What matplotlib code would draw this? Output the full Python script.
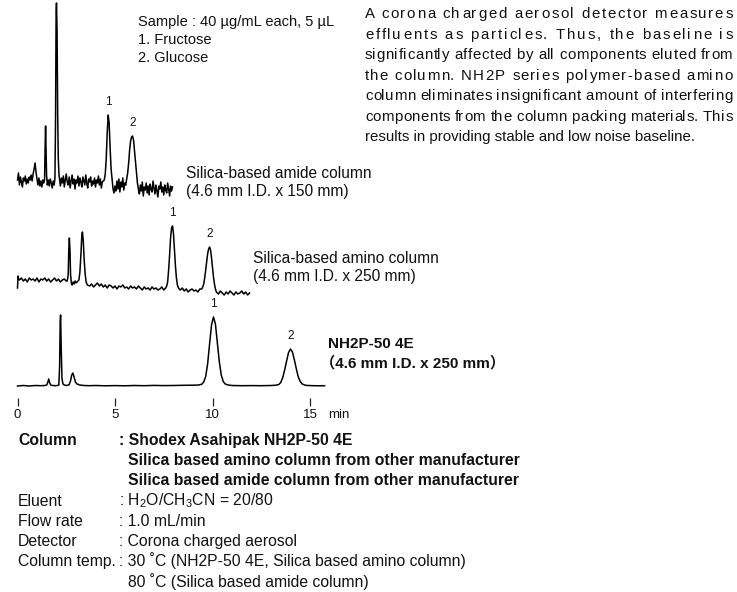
import matplotlib
matplotlib.use("Agg")
import matplotlib.pyplot as plt
from matplotlib.font_manager import FontProperties

# ---------------- data ----------------
tick_values = [0, 5, 10, 15]
tick_labels = ["0", "5", "10", "15"]
axis_unit = "min"

# Silica-based amide column trace (time in min, signal height)
amide_t = [0.00, 0.05, 0.10, 0.15, 0.20, 0.25, 0.30, 0.35, 0.40, 0.45, 0.50, 0.55, 0.60, 0.65, 0.70, 0.75, 0.80,
           0.85, 0.90, 0.95, 1.00, 1.05, 1.10, 1.15,
           1.20, 1.25, 1.30, 1.35,
           1.39, 1.42, 1.44, 1.46, 1.49, 1.53,
           1.58, 1.63, 1.68, 1.73, 1.78, 1.83, 1.88,
           1.92, 1.95, 1.98, 2.00, 2.03, 2.06, 2.09, 2.13, 2.17,
           2.20, 2.25, 2.30, 2.35, 2.40, 2.45, 2.50, 2.55, 2.60, 2.65, 2.70, 2.75, 2.80, 2.85, 2.90,
           2.95, 3.00, 3.05, 3.10, 3.15, 3.20, 3.25, 3.30, 3.35, 3.40, 3.45, 3.50, 3.55, 3.60, 3.65,
           3.70, 3.75, 3.80, 3.85, 3.90, 3.95, 4.00, 4.05, 4.10, 4.15, 4.20, 4.25, 4.30, 4.35, 4.40,
           4.45, 4.50, 4.55, 4.60, 4.65, 4.70, 4.75, 4.80, 4.85, 4.90, 4.95, 5.00,
           5.05, 5.10, 5.15, 5.20, 5.25, 5.30, 5.35, 5.40, 5.45, 5.50, 5.55,
           5.60, 5.65, 5.70, 5.75, 5.80, 5.85, 5.90, 5.95, 6.00, 6.05, 6.10, 6.15, 6.20,
           6.25, 6.30, 6.35, 6.40, 6.45, 6.50, 6.55, 6.60, 6.65, 6.70, 6.75, 6.80, 6.85, 6.90, 6.95,
           7.00, 7.05, 7.10, 7.15, 7.20, 7.25, 7.30, 7.35, 7.40, 7.45, 7.50, 7.55, 7.60, 7.65, 7.70,
           7.75, 7.80, 7.85, 7.90, 7.95]
amide_v = [3, 10, -2, 6, 1, -4, 5, 2, 7, -1, 4, 0, 6, 3, 8, 2, 9,
           14, 20, 11, 4, -2, 5, -3,
           2, -4, 3, 0,
           4, 40, 57, 38, 8, -2,
           3, -3, 4, 0, -5, 2, -2,
           5, 60, 170, 180, 150, 70, 25, 8, 2,
           -3, 5, 0, 7, -4, 3, 9, 1, -2, 6, -5, 2, 8, -1, 4,
           -6, 3, 0, 7, -3, 5, 1, -4, 6, 2, -2, 8, 0, -5, 4,
           1, 6, -3, 2, -1, 5, -4, 3, 0, 7, -2, 4, -5, 1, 2,
           3, 9, 24, 50, 68, 60, 35, 14, 4, -6, -10, -3,
           -8, 2, -6, 4, -9, 1, -4, 5, -7, 0, -2,
           4, 10, 20, 33, 42, 46, 47, 43, 32, 20, 9, 0, -6,
           -11, -2, -8, 1, -13, -4, -7, 0, -10, -3, -12, -1, -6, -9, 2,
           -5, -11, -2, -8, -14, -3, -6, 1, -9, -4, -12, -2, -7, -10, 0,
           -6, -13, -3, -8, -4]
amide_peaks = [(4.65, 68, "1"), (5.90, 47, "2")]

# Silica-based amino column trace
amino_t = [0.00, 0.03, 0.06, 0.10, 0.20, 0.30, 0.40, 0.50, 0.60, 0.70, 0.80, 0.90, 1.00, 1.10, 1.20,
           1.30, 1.40, 1.50, 1.60, 1.70, 1.80, 1.90, 2.00, 2.10, 2.20, 2.30, 2.40, 2.50,
           2.55, 2.60, 2.63, 2.66, 2.69, 2.72, 2.76, 2.80, 2.85, 2.90, 2.95, 3.00, 3.05, 3.10,
           3.15, 3.20, 3.25, 3.30, 3.33, 3.37, 3.42, 3.47, 3.52, 3.58,
           3.70, 3.80, 3.90, 4.00, 4.10, 4.20, 4.30, 4.40, 4.50, 4.60, 4.70, 4.80, 4.90, 5.00,
           5.10, 5.20, 5.30, 5.40, 5.50, 5.60, 5.70, 5.80, 5.90, 6.00, 6.10, 6.20, 6.30, 6.40,
           6.50, 6.60, 6.70, 6.80, 6.90, 7.00, 7.10, 7.20, 7.30, 7.40, 7.50,
           7.60, 7.65, 7.70, 7.75, 7.80, 7.85, 7.90, 7.95, 8.00, 8.05, 8.10, 8.15, 8.20, 8.25,
           8.35, 8.45, 8.55, 8.65, 8.75, 8.85, 8.95, 9.05, 9.15, 9.25, 9.35,
           9.45, 9.50, 9.55, 9.60, 9.65, 9.70, 9.75, 9.80, 9.85, 9.90, 9.95, 10.00, 10.05, 10.10, 10.15, 10.20,
           10.30, 10.40, 10.50, 10.60, 10.70, 10.80, 10.90, 11.00, 11.10, 11.20, 11.30, 11.40, 11.50,
           11.60, 11.70, 11.80, 11.90]
amino_v = [-8, 4, 1, 0, 2, -1, 1, -2, 2, 0, 1, -1, 2, -2, 1,
           0, 2, -1, 1, -2, 0, 2, -1, 1, -2, 0, 1, -1,
           -1, 5, 30, 42, 30, 6, -3, -5, -2, -4, -1, -3, -2, -1,
           0, 8, 25, 45, 48, 40, 20, 6, -2, -5,
           -6, -4, -7, -5, -3, -6, -4, -7, -5, -8, -5, -6, -8, -6,
           -9, -6, -7, -5, -8, -7, -9, -6, -8, -7, -9, -6, -8, -10,
           -7, -9, -8, -10, -7, -9, -8, -10, -9, -7, -10,
           -8, -6, -2, 10, 25, 42, 52, 54, 46, 30, 14, 2, -5, -8,
           -10, -8, -11, -9, -12, -10, -9, -11, -10, -12, -9,
           -9, -7, -4, 2, 10, 18, 26, 31, 33, 30, 22, 12, 3, -4, -9, -12,
           -14, -11, -13, -15, -12, -14, -11, -13, -15, -12, -14, -13, -11,
           -14, -12, -15, -13]
amino_peaks = [(7.95, 54, "1"), (9.85, 33, "2")]

# NH2P-50 4E trace
nh2p_t = [0.00, 0.30, 0.60, 0.90, 1.20, 1.40, 1.50, 1.56, 1.60, 1.64, 1.70, 1.80, 1.95, 2.05,
          2.12, 2.16, 2.19, 2.21, 2.24, 2.28, 2.33, 2.40, 2.50, 2.58,
          2.65, 2.72, 2.78, 2.84, 2.90, 2.97, 3.05, 3.20, 3.40,
          3.70, 4.00, 4.50, 5.00, 5.50, 6.00, 6.50, 7.00, 7.50, 8.00, 8.50, 9.00, 9.30,
          9.45, 9.55, 9.65, 9.75, 9.85, 9.95, 10.05, 10.15, 10.25, 10.35, 10.45, 10.55, 10.65, 10.80,
          11.00, 11.50, 12.00, 12.50, 13.00, 13.25,
          13.40, 13.50, 13.60, 13.70, 13.80, 13.90, 14.00, 14.10, 14.20, 14.30, 14.40, 14.50, 14.60, 14.75,
          14.90, 15.20, 15.50, 15.75]
nh2p_v = [0.0, 0.5, 0.0, 0.5, 0.3, 0.5, 1.0, 4.0, 7.0, 4.0, 1.0, 0.5, 0.3, 0.5,
          1.0, 20, 65, 71, 40, 8, 2.0, 1.0, 0.5, 0.8,
          1.5, 5, 11, 13, 9, 4, 2.0, 1.0, 0.5,
          0.3, 0.5, 0.2, 0.4, 0.2, 0.5, 0.3, 0.6, 0.4, 0.5, 0.7, 0.8, 1.0,
          1.8, 4.0, 9.5, 22, 42, 61, 69, 62, 43, 24, 11, 4.5, 2.0, 1.0,
          0.5, 0.3, 0.4, 0.3, 0.5, 0.8,
          1.5, 3.5, 8.3, 16, 25, 33.5, 37, 34, 26, 17, 9, 4.5, 2.0, 0.8,
          0.5, 0.3, 0.2, 0.3]
nh2p_peaks = [(10.05, 69, "1"), (14.00, 37, "2")]

sample_lines = ["Sample : 40 \u00b5g/mL each, 5 \u00b5L", "1. Fructose", "2. Glucose"]
paragraph = ["A corona charged aerosol detector measures",
             "effluents as particles. Thus, the baseline is",
             "significantly affected by all components eluted from",
             "the column. NH2P series polymer-based amino",
             "column eliminates insignificant amount of interfering",
             "components from the column packing materials. This",
             "results in providing stable and low noise baseline."]
amide_label = ["Silica-based amide column", "(4.6 mm I.D. x 150 mm)"]
amino_label = ["Silica-based amino column", "(4.6 mm I.D. x 250 mm)"]
nh2p_label = ["NH2P-50 4E", "\uff084.6 mm I.D. x 250 mm\uff09"]

cond_keys = ["Column", "", "", "Eluent", "Flow rate", "Detector", "Column temp.", ""]
cond_vals = [": Shodex Asahipak NH2P-50 4E",
             "Silica based amino column from other manufacturer",
             "Silica based amide column from other manufacturer",
             r": H$\mathregular{_2}$O/CH$\mathregular{_3}$CN = 20/80",
             ": 1.0 mL/min",
             ": Corona charged aerosol",
             ": 30 \u02daC (NH2P-50 4E, Silica based amino column)",
             "80 \u02daC (Silica based amide column)"]
cond_bold = [True, True, True, False, False, False, False, False]

# ---------------- layout ----------------
W, H = 737, 592
DPI = 100
FONT = ["Liberation Sans", "Noto Sans CJK JP", "DejaVu Sans"]
plt.rcParams["font.family"] = FONT
plt.rcParams["mathtext.fontset"] = "custom"
plt.rcParams["mathtext.rm"] = "Liberation Sans"

fig = plt.figure(figsize=(W / DPI, H / DPI), dpi=DPI)
fig.patch.set_facecolor("white")

X0_PX, PX_PER_MIN = 17.5, 19.5
AX_BOTTOM = 406
ax = fig.add_axes([0, 1 - AX_BOTTOM / H, 1, AX_BOTTOM / H])
ax.set_xlim(-X0_PX / PX_PER_MIN, (W - X0_PX) / PX_PER_MIN)
ax.set_ylim(AX_BOTTOM, 0)
ax.patch.set_alpha(0)
for s in ax.spines.values():
    s.set_visible(False)
ax.set_yticks([])
ax.set_xticks(tick_values)
ax.set_xticklabels(tick_labels)
ax.tick_params(axis="x", direction="in", length=6, width=0.9, pad=2.5,
               labelsize=9.5, color="#222222", labelcolor="#111111")

traces = [(amide_t, amide_v, 183, amide_peaks),
          (amino_t, amino_v, 280, amino_peaks),
          (nh2p_t, nh2p_v, 386, nh2p_peaks)]
for t, v, base, peaks in traces:
    ax.plot(t, [base - y for y in v], color="black", lw=1.1, solid_joinstyle="round")
    for pt, ph, lab in peaks:
        ax.text(pt, base - ph - 13, lab, ha="center", va="center", fontsize=8.5, color="#111111")


def ftext(x, y, s, size, **kw):
    """Place text whose cap-height centre is at pixel (x, y)."""
    kw.setdefault("ha", "left")
    kw.setdefault("color", "#111111")
    base = y + 0.36 * size * DPI / 72
    return fig.text(x / W, 1 - base / H, s, fontsize=size, va="baseline", **kw)


ftext(328, 413, axis_unit, 9.5)

for i, s in enumerate(sample_lines):
    ftext(138, 21 + i * 17.8, s, 10.5)

for i, s in enumerate(amide_label):
    ftext(186, 172 + i * 18, s, 11.2)
for i, s in enumerate(amino_label):
    ftext(253, 257 + i * 18, s, 11.2)
ftext(328, 343, nh2p_label[0], 11, fontweight="bold")
ftext(320, 362, nh2p_label[1], 11, fontweight="bold")

# justified paragraph (letter-spaced like the reference)
PSIZE = 10.8
fp = FontProperties(family=FONT, size=PSIZE)
renderer = fig.canvas.get_renderer()

try:
    from matplotlib.backends.backend_agg import get_hinting_flag
    _font = renderer._prepare_font(fp)

    def extent(s):
        """Ink (xmin, xmax) in pixels relative to the pen origin."""
        _font.set_text(s, 0.0, flags=get_hinting_flag())
        w, _h = _font.get_width_height()
        xo, _yo = _font.get_bitmap_offset()
        return xo / 64.0, (xo + w) / 64.0
    extent("A")
except Exception:
    def extent(s):
        w = renderer.get_text_width_height_descent(s, fp, ismath=False)[0]
        return 0.0, w

PX_L, PX_R = 365, 733
for i, line in enumerate(paragraph):
    y = 13 + i * 20.5
    if i == len(paragraph) - 1:
        ftext(PX_L, y, line, PSIZE)
        continue
    n = len(line)
    lx0, lx1 = extent(line)
    gap = ((PX_R - PX_L) - (lx1 - lx0)) / (n - 1)
    for k, ch in enumerate(line):
        if ch == " ":
            continue
        origin = extent(line[:k + 1])[1] - extent(ch)[1]
        ftext(PX_L - lx0 + origin + k * gap, y, ch, PSIZE)

# conditions block
for i, (k, v, b) in enumerate(zip(cond_keys, cond_vals, cond_bold)):
    y = 439 + i * 20.3
    w = "bold" if b else "normal"
    if k:
        ftext(18, y, k, 11.3, fontweight=w)
    xv = 119 if v.startswith(":") else 128
    ftext(xv, y, v, 11.3, fontweight=w)

fig.savefig("out.png", dpi=DPI, facecolor="white")
